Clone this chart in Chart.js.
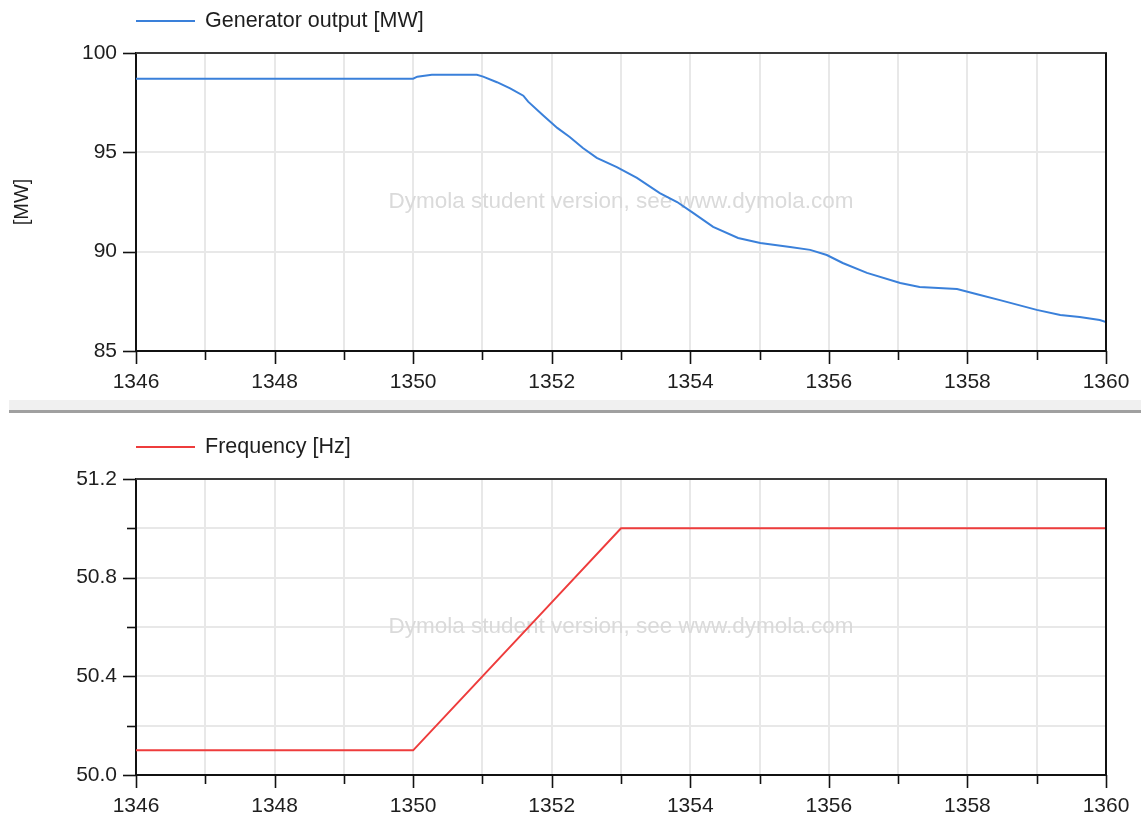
<!DOCTYPE html>
<html><head><meta charset="utf-8">
<script src="https://cdn.jsdelivr.net/npm/chart.js@4.4.0/dist/chart.umd.min.js"></script>
<style>
html,body{margin:0;padding:0;background:#fff;width:1141px;height:818px;overflow:hidden}
#wrap{position:relative;width:1141px;height:818px}
canvas{position:absolute;left:0}
#band{position:absolute;left:9px;top:400px;width:1132px;height:10px;background:#f0f0f0}
#sep{position:absolute;left:9px;top:410px;width:1132px;height:3px;background:#a0a0a0}
</style></head><body>
<div id="wrap">
<div id="band"></div><div id="sep"></div>
<canvas id="c1" width="1141" height="400" style="top:0"></canvas>
<canvas id="c2" width="1141" height="405" style="top:413px"></canvas>
</div>
<script>
// ---- data ----
const powerTime = [1346, 1350, 1350.06, 1350.27, 1350.92, 1351.01, 1351.21, 1351.40, 1351.59, 1351.66,
  1351.87, 1352.08, 1352.26, 1352.45, 1352.65, 1352.94, 1353.23, 1353.56, 1353.81, 1354.04,
  1354.33, 1354.69, 1355.01, 1355.44, 1355.73, 1355.97, 1356.20, 1356.55, 1357.03, 1357.31,
  1357.85, 1358.14, 1358.47, 1359.00, 1359.34, 1359.62, 1359.91, 1360];
const powerMW = [98.71, 98.71, 98.81, 98.9, 98.9, 98.81, 98.53, 98.22, 97.85, 97.55,
  96.88, 96.23, 95.77, 95.22, 94.72, 94.26, 93.71, 92.95, 92.50, 91.95,
  91.25, 90.69, 90.44, 90.24, 90.09, 89.83, 89.43, 88.93, 88.42, 88.22,
  88.12, 87.86, 87.56, 87.07, 86.81, 86.71, 86.56, 86.46];
const freqTime = [1346, 1350, 1351, 1352, 1353, 1360];
const freqHz = [50.1, 50.1, 50.4, 50.7, 51.0, 51.0];
const timeRange = [1346, 1360];
const powerRange = [85, 100];
const freqRange = [50.0, 51.2];
const powerLabel = 'Generator output [MW]';
const freqLabel = 'Frequency [Hz]';
const powerAxisTitle = '[MW]';
const watermark = 'Dymola student version, see www.dymola.com';

const FONT = "'Liberation Sans', Arial, sans-serif";
const TXT = '#1e1e1e';
const BLUE = '#3a80da';
const RED = '#ee3c3c';

function decoPlugin(cfg) {
  return {
    id: 'deco',
    beforeDatasetsDraw(chart) {
      const a = chart.chartArea, ctx = chart.ctx;
      ctx.save();
      ctx.font = '22.5px ' + FONT;
      ctx.fillStyle = '#dadada';
      ctx.textAlign = 'center';
      ctx.textBaseline = 'middle';
      ctx.fillText(watermark, (a.left + a.right) / 2, (a.top + a.bottom) / 2);
      ctx.restore();
    },
    afterDraw(chart) {
      const a = chart.chartArea, ctx = chart.ctx;
      const xs = chart.scales.x, ys = chart.scales.y;
      ctx.save();
      // top & right frame
      ctx.lineWidth = 2;
      ctx.strokeStyle = '#3a3a3a';
      ctx.beginPath(); ctx.moveTo(a.left, a.top); ctx.lineTo(a.right + 1, a.top); ctx.stroke();
      ctx.strokeStyle = '#111';
      ctx.beginPath(); ctx.moveTo(a.right, a.top); ctx.lineTo(a.right, a.bottom); ctx.stroke();
      // tick marks
      ctx.strokeStyle = '#111';
      ctx.lineWidth = 1.6;
      xs.ticks.forEach(t => {
        const px = Math.round(xs.getPixelForValue(t.value)) + 0.5;
        const len = Math.round(t.value) % 2 === 0 ? 13 : 9;
        ctx.beginPath(); ctx.moveTo(px, a.bottom); ctx.lineTo(px, a.bottom + len); ctx.stroke();
      });
      ys.ticks.forEach((t, i) => {
        const py = Math.round(ys.getPixelForValue(t.value)) + 0.5;
        const len = cfg.yMajor(i) ? 13 : 9;
        ctx.beginPath(); ctx.moveTo(a.left, py); ctx.lineTo(a.left - len, py); ctx.stroke();
      });
      // legend
      ctx.strokeStyle = cfg.color;
      ctx.lineWidth = 1.8;
      ctx.beginPath(); ctx.moveTo(136, cfg.legendY); ctx.lineTo(195, cfg.legendY); ctx.stroke();
      ctx.font = '21.5px ' + FONT;
      ctx.fillStyle = TXT;
      ctx.textAlign = 'left';
      ctx.textBaseline = 'middle';
      ctx.fillText(cfg.label, 205, cfg.legendY);
      ctx.restore();
    }
  };
}

function makeChart(id, times, vals, opts) {
  const pts = times.map((t, i) => ({x: t, y: vals[i]}));
  return new Chart(document.getElementById(id), {
    type: 'line',
    data: {datasets: [{label: opts.label, data: pts, borderColor: opts.color, borderWidth: 2,
      pointRadius: 0, tension: 0, fill: false}]},
    options: {
      responsive: false, animation: false, devicePixelRatio: 1,
      layout: {padding: {left: 0, right: 35, top: opts.padTop, bottom: opts.padBottom}},
      plugins: {legend: {display: false}, tooltip: {enabled: false}},
      scales: {
        x: {
          type: 'linear', min: timeRange[0], max: timeRange[1],
          ticks: {stepSize: 1, autoSkip: false, maxRotation: 0, color: TXT, padding: 6,
            font: {family: FONT, size: 21},
            callback: v => (Math.round(v) % 2 === 0 ? String(Math.round(v)) : '')},
          grid: {color: '#e8e8e8', lineWidth: 2, tickLength: 13, tickColor: 'rgba(0,0,0,0)'},
          border: {color: '#111', width: 2},
          afterFit(s) { s.height = 43; }
        },
        y: {
          min: opts.range[0], max: opts.range[1],
          ticks: {stepSize: opts.step, color: TXT, padding: 6, font: {family: FONT, size: 21},
            callback: opts.tickCb},
          grid: {color: '#e8e8e8', lineWidth: 2, tickLength: 13, tickColor: 'rgba(0,0,0,0)'},
          border: {color: '#111', width: 2},
          title: {display: !!opts.title, text: opts.title || '', color: TXT,
            font: {family: FONT, size: 20}, padding: {top: 10, bottom: 0}},
          afterFit(s) { s.width = 136; }
        }
      }
    },
    plugins: [decoPlugin({color: opts.color, label: opts.label, legendY: opts.legendY, yMajor: opts.yMajor})]
  });
}

makeChart('c1', powerTime, powerMW, {
  label: powerLabel, color: BLUE, padTop: 53, padBottom: 6, range: powerRange, step: 5,
  tickCb: v => String(v), yMajor: () => true, legendY: 21, title: powerAxisTitle
});
makeChart('c2', freqTime, freqHz, {
  label: freqLabel, color: RED, padTop: 66, padBottom: 0, range: freqRange, step: 0.2,
  tickCb: (v, i) => (i % 2 === 0 ? Number(v).toFixed(1) : ''), yMajor: i => i % 2 === 0, legendY: 34
});
</script>
</body></html>
